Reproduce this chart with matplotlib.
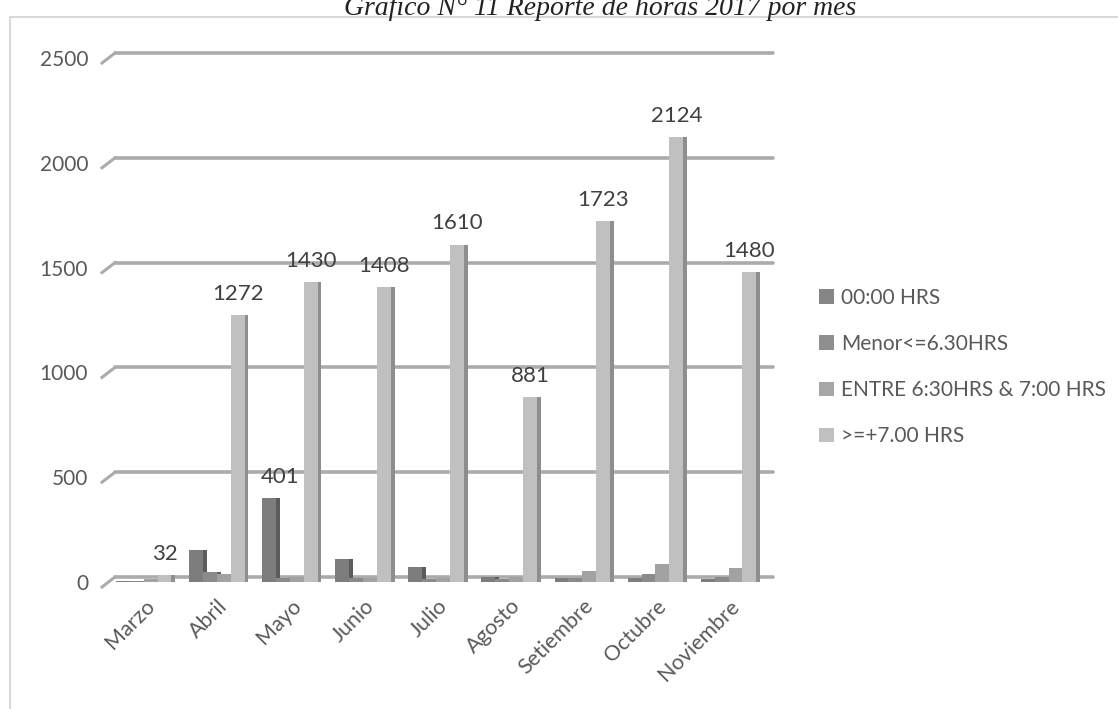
import matplotlib
matplotlib.use("Agg")
import matplotlib.pyplot as plt
import matplotlib.transforms as mtransforms
from matplotlib.patches import Rectangle, Patch
import numpy as np

months = ["Marzo", "Abril", "Mayo", "Junio", "Julio", "Agosto",
          "Setiembre", "Octubre", "Noviembre"]
series_names = ["00:00 HRS", "Menor<=6.30HRS",
                "ENTRE 6:30HRS & 7:00 HRS", ">=+7.00 HRS"]
s_0000 = [4, 155, 401, 108, 70, 22, 18, 18, 14]
s_menor = [4, 48, 20, 20, 16, 12, 20, 38, 22]
s_entre = [12, 40, 26, 18, 20, 25, 52, 85, 68]
s_mas7 = [32, 1272, 1430, 1408, 1610, 881, 1723, 2124, 1480]
yticks = [0, 500, 1000, 1500, 2000, 2500]
title = "Gráfico N° 11 Reporte de horas 2017 por mes"

front_cols = ["#7d7d7d", "#8a8a8a", "#a2a2a2", "#c0c0c0"]
side_cols = ["#5c5c5c", "#666666", "#7a7a7a", "#8e8e8e"]
legend_cols = ["#858585", "#8f8f8f", "#a6a6a6", "#c0c0c0"]

W, H, DPI = 1118, 709, 100
fig = plt.figure(figsize=(W / DPI, H / DPI), dpi=DPI)
fig.patch.set_facecolor("white")

# chart border
fig.add_artist(Rectangle((10 / W, -0.05), 1.2, 1 - 17 / H + 0.05,
                         transform=fig.transFigure, fill=False,
                         edgecolor="#d9d9d9", linewidth=1.5, clip_on=False))

fig.text(600 / W, 1 - 15 / H, title, ha="center", va="baseline",
         fontsize=20, style="italic", family="Liberation Serif", color="#222222")

ax = fig.add_axes([109 / W, (H - 582) / H, 658 / W, 524 / H])
ax.set_xlim(-0.5, len(months) - 0.5)
ax.set_ylim(0, 2500)
for sp in ax.spines.values():
    sp.set_visible(False)

# back-plane gridlines (3D style)
back = ax.transData + mtransforms.ScaledTranslation(6 / DPI, 5 / DPI, fig.dpi_scale_trans)
left_diag = mtransforms.blended_transform_factory(ax.transAxes, ax.transData)
inv = fig.transFigure.inverted()
for yv in yticks:
    ax.plot([-0.5, len(months) - 0.5], [yv, yv], color="#ababab", lw=2.6,
            transform=back, clip_on=False, zorder=0, solid_capstyle="round")
    t0 = left_diag + mtransforms.ScaledTranslation(-7 / DPI, -5 / DPI, fig.dpi_scale_trans)
    t1 = left_diag + mtransforms.ScaledTranslation(6 / DPI, 5 / DPI, fig.dpi_scale_trans)
    q0 = inv.transform(t0.transform((0, yv)))
    q1 = inv.transform(t1.transform((0, yv)))
    fig.add_artist(plt.Line2D([q0[0], q1[0]], [q0[1], q1[1]], color="#ababab",
                              lw=2.2, transform=fig.transFigure))

x = np.arange(len(months))
all_series = [s_0000, s_menor, s_entre, s_mas7]
slot = 0.19
side_w = 0.052
offsets = (np.arange(4) - 1.5) * slot - side_w / 2
for k, vals in enumerate(all_series):
    left = x + offsets[k] - slot / 2
    ax.bar(left + slot, vals, width=side_w, align="edge", color=side_cols[k],
           edgecolor="none", zorder=2 + k * 0.2)
    ax.bar(left, vals, width=slot, align="edge", color=front_cols[k],
           edgecolor="none", zorder=2.1 + k * 0.2)

# data labels
lab_kw = dict(ha="center", va="bottom", fontsize=16, family="Lato", color="#404040")
for i, v in enumerate(s_mas7):
    ax.annotate(str(v), (x[i] + offsets[3], v), xytext=(0, 8),
                textcoords="offset points", **lab_kw)
ax.annotate(str(s_0000[2]), (x[2] + offsets[0], s_0000[2]), xytext=(8, 8),
            textcoords="offset points", **lab_kw)

ax.set_yticks(yticks)
ax.set_yticklabels([str(v) for v in yticks], fontsize=15, family="Lato", color="#595959")
ax.tick_params(axis="y", length=0, pad=15)
ax.set_xticks(x)
ax.set_xticklabels(months, rotation=45, ha="right", rotation_mode="anchor",
                   fontsize=15.5, family="Lato", color="#595959")
ax.tick_params(axis="x", length=0, pad=10)
offset = mtransforms.ScaledTranslation(-1 / DPI, 0, fig.dpi_scale_trans)
for lbl in ax.get_xticklabels():
    lbl.set_transform(lbl.get_transform() + offset)

handles = [Patch(facecolor=c, edgecolor="none") for c in legend_cols]
fig.legend(handles, series_names, loc="upper left",
           bbox_to_anchor=(819 / W, 1 - 288 / H), frameon=False,
           prop={"family": "Lato", "size": 15}, labelcolor="#595959",
           handlelength=0.7, handleheight=0.7, handletextpad=0.35,
           labelspacing=1.25, borderpad=0, borderaxespad=0)

fig.savefig("out.png", dpi=DPI)
